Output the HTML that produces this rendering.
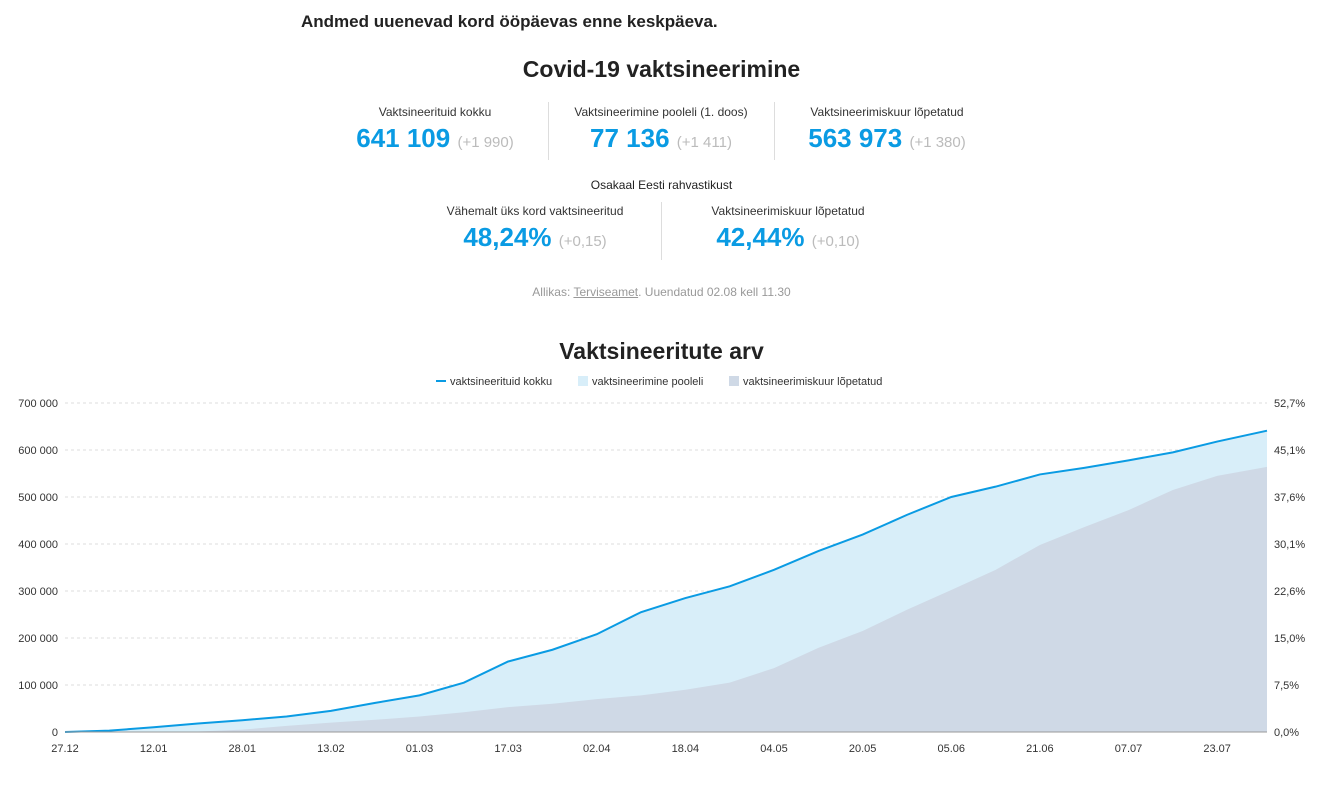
<!DOCTYPE html>
<html><head><meta charset="utf-8">
<style>
body{margin:0;width:1343px;height:795px;background:#fff;font-family:"Liberation Sans",sans-serif;color:#222;position:relative;overflow:hidden}
.abs{position:absolute}
.stat{position:absolute;text-align:center;width:226px}
.lab{font-size:12px;color:#333}
.num{font-size:26px;font-weight:bold;color:#0a9be3;margin-top:4px;white-space:nowrap}
.num span{font-size:15px;font-weight:normal;color:#bbb}
.div{position:absolute;width:1px;background:#ddd}
</style></head><body>
<div class="abs" style="left:301px;top:12px;font-size:17px;font-weight:bold">Andmed uuenevad kord ööpäevas enne keskpäeva.</div>
<div class="abs" style="left:0;width:1323px;top:56px;text-align:center;font-size:23px;font-weight:bold">Covid-19 vaktsineerimine</div>

<div class="stat" style="left:322px;top:105px"><div class="lab">Vaktsineerituid kokku</div><div class="num">641 109 <span>(+1 990)</span></div></div>
<div class="div" style="left:548px;top:102px;height:58px"></div>
<div class="stat" style="left:548px;top:105px"><div class="lab">Vaktsineerimine pooleli (1. doos)</div><div class="num">77 136 <span>(+1 411)</span></div></div>
<div class="div" style="left:774px;top:102px;height:58px"></div>
<div class="stat" style="left:774px;top:105px"><div class="lab">Vaktsineerimiskuur lõpetatud</div><div class="num">563 973 <span>(+1 380)</span></div></div>

<div class="abs" style="left:0;width:1323px;top:178px;text-align:center;font-size:12px">Osakaal Eesti rahvastikust</div>
<div class="stat" style="left:422px;top:204px"><div class="lab">Vähemalt üks kord vaktsineeritud</div><div class="num">48,24% <span>(+0,15)</span></div></div>
<div class="div" style="left:661px;top:202px;height:58px"></div>
<div class="stat" style="left:675px;top:204px"><div class="lab">Vaktsineerimiskuur lõpetatud</div><div class="num">42,44% <span>(+0,10)</span></div></div>

<div class="abs" style="left:0;width:1323px;top:285px;text-align:center;font-size:12px;color:#999">Allikas: <u>Terviseamet</u>. Uuendatud 02.08 kell 11.30</div>

<div class="abs" style="left:0;width:1323px;top:338px;text-align:center;font-size:23px;font-weight:bold">Vaktsineeritute arv</div>

<svg class="abs" style="left:0;top:0" width="1343" height="795" id="chart"></svg>
<script>
const days=[0,8,16,24,32,40,48,56,64,72,80,88,96,104,112,120,128,136,144,152,160,168,176,184,192,200,208,217];
const totalVals=[0,3000,10000,18000,25000,33000,45000,62000,78000,105000,150000,175000,208000,255000,285000,310000,345000,385000,420000,462000,500000,522000,548000,562000,578000,595000,618000,641109];
const completedVals=[0,0,0,1000,5000,13000,20000,26000,33000,42000,53000,60000,70000,78000,90000,105000,136000,179000,215000,260000,302000,345000,398000,436000,472000,515000,545000,563973];
const yTicks=[0,100000,200000,300000,400000,500000,600000,700000];
const yLabels=["0","100 000","200 000","300 000","400 000","500 000","600 000","700 000"];
const pctLabels=["0,0%","7,5%","15,0%","22,6%","30,1%","37,6%","45,1%","52,7%"];
const xTickDays=[0,16,32,48,64,80,96,112,128,144,160,176,192,208];
const xLabels=["27.12","12.01","28.01","13.02","01.03","17.03","02.04","18.04","04.05","20.05","05.06","21.06","07.07","23.07"];
const X=d=>65+d*(1267-65)/217, Y=v=>732-v*(732-403)/700000;
const svg=document.getElementById('chart'),NS='http://www.w3.org/2000/svg';
function mk(t,a,p){const e=document.createElementNS(NS,t);for(const k in a)e.setAttribute(k,a[k]);(p||svg).appendChild(e);return e;}
yTicks.forEach((v,i)=>{
 const g=mk('line',{x1:65,x2:1267,y1:Y(v),y2:Y(v),stroke:i?'#ddd':'#999','stroke-dasharray':i?'3,3':''});
 
 const t=mk('text',{x:58,y:Y(v)+4,'text-anchor':'end','font-size':11,fill:'#333'});t.textContent=yLabels[i];
 
 const r=mk('text',{x:1274,y:Y(v)+4,'font-size':11,fill:'#333'});r.textContent=pctLabels[i];
 
});
const pts=a=>days.map((d,i)=>X(d)+','+Y(a[i])).join(' ');
const a1=mk('polygon',{points:X(0)+','+Y(0)+' '+pts(totalVals)+' '+X(217)+','+Y(0),fill:'#d8eef9'});

const a2=mk('polygon',{points:X(0)+','+Y(0)+' '+pts(completedVals)+' '+X(217)+','+Y(0),fill:'#cfd9e6'});

const ln=mk('polyline',{points:pts(totalVals),fill:'none',stroke:'#0a9be3','stroke-width':2});

mk('line',{x1:65,x2:1267,y1:732,y2:732,stroke:'#999'});
xTickDays.forEach((d,i)=>{
 const t=mk('text',{x:X(d),y:752,'text-anchor':'middle','font-size':11,fill:'#333'});t.textContent=xLabels[i];
 
});
const leg=[["line","#0a9be3","vaktsineerituid kokku",436],["box","#d8eef9","vaktsineerimine pooleli",578],["box","#cfd9e6","vaktsineerimiskuur lõpetatud",729]];
leg.forEach(l=>{
 const g=mk('g',{});
 if(l[0]=='line')mk('rect',{x:l[3],y:380,width:10,height:2,fill:l[1]},g);else mk('rect',{x:l[3],y:376,width:10,height:10,fill:l[1]},g);
 const t=mk('text',{x:l[3]+14,y:385,'font-size':11,fill:'#333'},g);t.textContent=l[2];
});
</script>
</body></html>
